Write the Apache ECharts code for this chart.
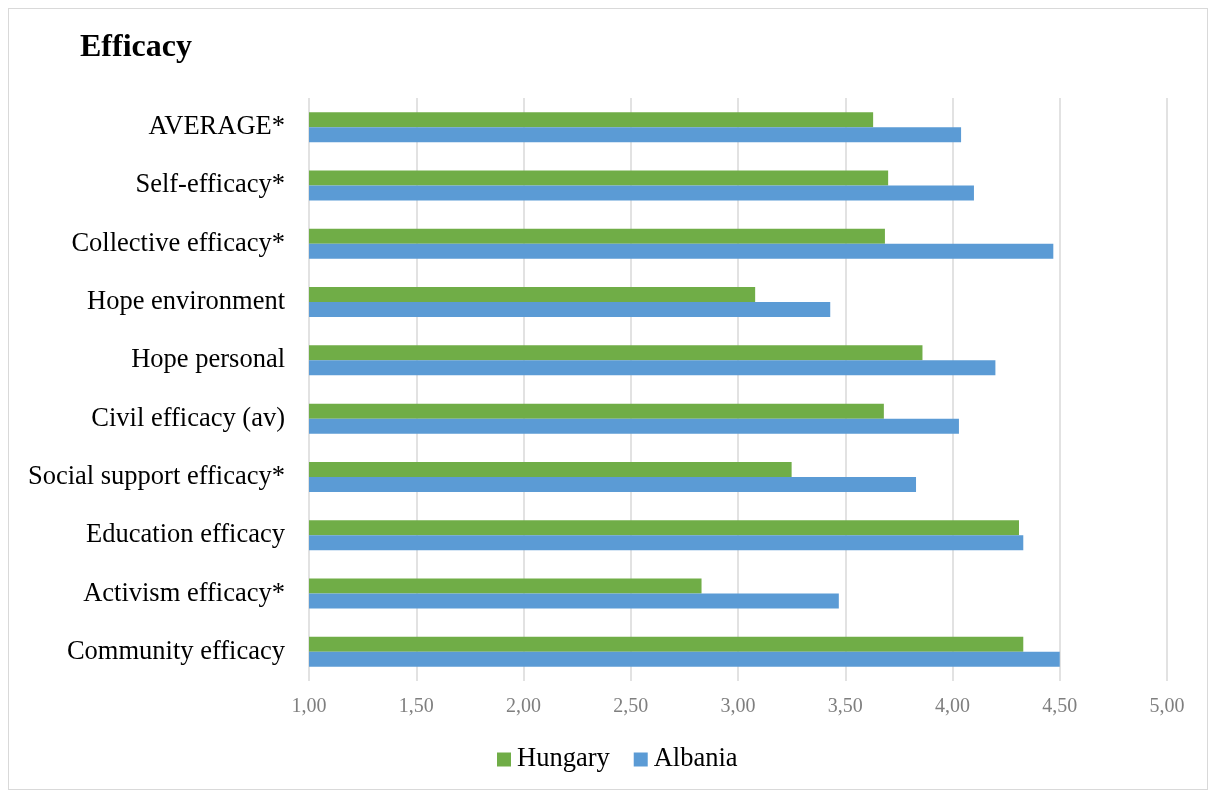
<!DOCTYPE html>
<html><head><meta charset="utf-8">
<script src="https://cdn.jsdelivr.net/npm/echarts@6/dist/echarts.min.js"></script>
<style>
html,body{margin:0;padding:0;background:#fff;}
#frame{position:absolute;left:8px;top:8px;width:1200px;height:782px;border:1px solid #d9d9d9;box-sizing:border-box;}
#chart{position:absolute;left:0;top:0;width:1210px;height:791px;}
</style></head>
<body>
<div id="frame"></div>
<div id="chart"></div>
<script>
const categories = ["Community efficacy","Activism efficacy*","Education efficacy","Social support efficacy*","Civil efficacy (av)","Hope personal","Hope environment","Collective efficacy*","Self-efficacy*","AVERAGE*"];
const hungary = [4.33,2.83,4.31,3.25,3.68,3.86,3.08,3.685,3.70,3.63];
const albania = [4.50,3.47,4.33,3.83,4.03,4.20,3.43,4.47,4.10,4.04];
const seriesNames = ["Hungary","Albania"];

const chart = echarts.init(document.getElementById('chart'));
const serif = '"Liberation Serif","Times New Roman",serif';
chart.setOption({
  animation:false,
  title:{text:'Efficacy',left:75,top:27,textStyle:{fontFamily:serif,fontWeight:'bold',fontSize:32,color:'#000'}},
  grid:{left:309,right:43,top:98,bottom:110,containLabel:false},
  legend:{data:seriesNames,bottom:13,left:492,itemWidth:14,itemHeight:14,itemGap:24,icon:'rect',
    textStyle:{fontFamily:serif,fontSize:26.5,color:'#000',padding:[0,0,0,1]}},
  xAxis:{type:'value',min:1,max:5,interval:0.5,
    axisLine:{show:false},axisTick:{show:false},
    splitLine:{lineStyle:{color:'#d9d9d9',width:1.5}},
    axisLabel:{fontFamily:serif,fontSize:20,color:'#7f7f7f',margin:16,formatter:v=>v.toFixed(2).replace('.',',')}},
  yAxis:{type:'category',data:categories,
    axisLine:{show:false},axisTick:{show:false},
    axisLabel:{fontFamily:serif,fontSize:26.5,color:'#000',margin:24}},
  series:[
    {name:'Hungary',type:'bar',data:hungary,itemStyle:{color:'#70ad47'},barGap:'0%',barCategoryGap:'48.5%'},
    {name:'Albania',type:'bar',data:albania,itemStyle:{color:'#5b9bd5'},barGap:'0%',barCategoryGap:'48.5%'}
  ]
});
</script>
</body></html>
